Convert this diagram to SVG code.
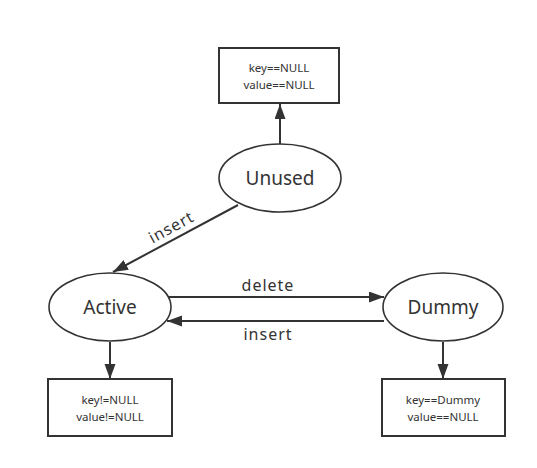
<svg xmlns="http://www.w3.org/2000/svg" width="537" height="468" viewBox="0 0 537 468">
<style>
.ell{fill:#fff;stroke:#333;stroke-width:1.6}
.box{fill:#fff;stroke:#333;stroke-width:2}
.big{font-family:"Noto Sans","DejaVu Sans",sans-serif;font-size:19px;fill:#333;text-anchor:middle;dominant-baseline:central}
.sm{font-family:"Noto Sans","DejaVu Sans",sans-serif;font-size:11.5px;fill:#333;text-anchor:middle;dominant-baseline:central}
.lbl{font-family:"Noto Sans","DejaVu Sans",sans-serif;font-size:16px;fill:#333;text-anchor:middle;letter-spacing:1px}
.edge{stroke:#333;stroke-width:2;fill:none;marker-end:url(#arr)}
</style>
<defs>
<marker id="arr" markerUnits="userSpaceOnUse" markerWidth="16" markerHeight="12" refX="15" refY="5.5" orient="auto">
<path d="M0,0 L15,5.5 L0,11 Z" fill="#333"/>
</marker>
</defs>
<g id="connectors">
<line class="edge" x1="280" y1="144" x2="280" y2="104"/>
<line class="edge" x1="238" y1="205" x2="113" y2="272"/>
<line class="edge" x1="169" y1="297" x2="384" y2="297"/>
<line class="edge" x1="384" y1="321" x2="167" y2="321"/>
<line class="edge" x1="110" y1="342" x2="110" y2="379"/>
<line class="edge" x1="443" y1="342" x2="443" y2="379"/>
<text class="lbl" transform="translate(174,232) rotate(-28.5)">insert</text>
<text class="lbl" x="268" y="291">delete</text>
<text class="lbl" x="268" y="340">insert</text>
</g>
<g id="box-unused">
<rect class="box" x="219" y="48" width="120" height="55"/>
<text class="sm" x="279" y="67.5">key==NULL</text>
<text class="sm" x="279" y="84">value==NULL</text>
</g>
<g id="unused">
<ellipse class="ell" cx="280" cy="178" rx="61" ry="34"/>
<text class="big" x="280" y="178">Unused</text>
</g>
<g id="active">
<ellipse class="ell" cx="110" cy="307" rx="61" ry="34"/>
<text class="big" x="110" y="307">Active</text>
</g>
<g id="dummy">
<ellipse class="ell" cx="443" cy="307" rx="60" ry="34"/>
<text class="big" x="443" y="307">Dummy</text>
</g>
<g id="box-active">
<rect class="box" x="48" y="379" width="124" height="57"/>
<text class="sm" x="110" y="399.5">key!=NULL</text>
<text class="sm" x="110" y="416">value!=NULL</text>
</g>
<g id="box-dummy">
<rect class="box" x="382" y="379" width="123" height="57"/>
<text class="sm" x="443" y="399.5">key==Dummy</text>
<text class="sm" x="443" y="416">value==NULL</text>
</g>
</svg>
